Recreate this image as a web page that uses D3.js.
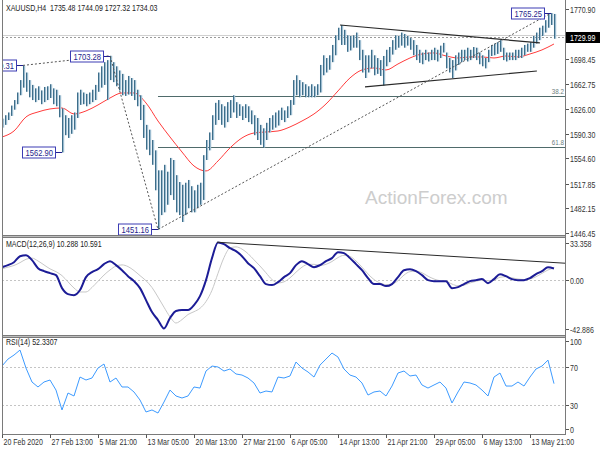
<!DOCTYPE html>
<html><head><meta charset="utf-8">
<script src="https://cdn.jsdelivr.net/npm/d3@7"></script>
<style>
body{margin:0;background:#fff;}
svg text{font-family:'Liberation Sans',Arial,sans-serif;}
</style></head><body>
<svg id="c" width="600" height="450"></svg>
<script>
// ---------------- DATA ----------------
const symbol = "XAUUSD,H4";
const lastOHLC = ["1735.48", "1744.09", "1727.32", "1734.03"];
const bidPrice = 1729.99;
const closePrice = 1734.03;

// H4 bars (sampled every other bar), high / low
const highs = [
 1612,1617,1621,1631,1639,1650,1668,1689.31,1679,1668,
 1661,1656,1659,1653,1658,1659,1662,1656,1654,1646,
 1627,1617,1613,1617,1621,1650,1654,1650,1648,1650,
 1654,1661,1679,1688,1694,1697,1703.28,1694,1688,1682,
 1677,1668,1674,1671,1668,1654,1646,1632,1603,1596,
 1581,1566,1537,1537,1545,1535,1555,1552,1530,1520,
 1516,1519,1523,1514,1508,1516,1519,1559,1581,1592,
 1617,1635,1639,1633,1630,1636,1639,1646,1636,1633,
 1630,1633,1630,1624,1617,1613,1603,1598,1606,1613,
 1617,1621,1624,1628,1624,1630,1639,1668,1675,1668,
 1665,1662,1659,1662,1659,1662,1690,1704,1700,1704,
 1719,1733,1744,1748,1741,1733,1732,1733,1737,1726,
 1712,1704,1704,1712,1704,1700,1697,1703,1712,1716,
 1726,1733,1732,1737,1735,1732,1729,1726,1719,1712,
 1708,1712,1708,1712,1715,1712,1718,1722,1708,1700,
 1697,1704,1708,1712,1712,1715,1712,1716,1715,1708,
 1704,1700,1712,1719,1721,1723,1726,1715,1708,1708,
 1708,1712,1712,1715,1719,1721,1723,1732,1737,1744,
 1747,1755,1764,1765.25,1764
];
const lows = [
 1599,1603,1610,1616,1625,1633,1646,1657,1651,1643,
 1639,1636,1639,1633,1636,1639,1642,1633,1630,1614,
 1562.90,1588,1584,1590,1596,1613,1632,1633,1630,1633,
 1636,1639,1651,1657,1661,1639,1668,1665,1659,1653,
 1646,1645,1647,1645,1639,1630,1610,1584,1567,1559,
 1545,1508,1451.16,1472,1476,1487,1501,1494,1476,1472,
 1462,1472,1482,1476,1476,1482,1487,1494,1552,1566,
 1581,1603,1610,1603,1599,1607,1613,1621,1613,1616,
 1610,1613,1607,1604,1588,1581,1574,1570,1581,1592,
 1596,1599,1602,1610,1607,1613,1617,1632,1646,1643,
 1646,1643,1643,1643,1643,1646,1650,1675,1679,1683,
 1694,1704,1726,1719,1719,1709,1711,1715,1715,1697,
 1679,1671,1679,1685,1675,1677,1674,1660,1688,1694,
 1705,1712,1715,1718,1715,1718,1712,1704,1697,1693,
 1691,1697,1695,1697,1697,1695,1700,1708,1685,1679,
 1671,1682,1690,1694,1697,1695,1697,1700,1697,1691,
 1688,1685,1694,1703,1704,1706,1709,1697,1695,1697,
 1697,1697,1700,1700,1704,1709,1709,1715,1721,1726,
 1732,1737,1744,1748,1728
];
// moving average, one value every 4 bars
const maStep = 4;
const maValues = [
 1585.4,1594.1,1614.5,1621.7,1626.1,1627.5,1618.8,1623.2,1631.9,1642.0,
 1649.3,1649.3,1634.8,1608.6,1585.4,1563.6,1543.3,1536.1,1550.6,1569.5,
 1584.0,1591.2,1592.7,1594.1,1600.0,1608.6,1618.8,1633.3,1652.2,1671.1,
 1682.7,1685.6,1682.7,1691.4,1700.1,1705.9,1707.4,1703.0,1700.1,1701.6,
 1701.6,1700.1,1703.0,1701.6,1705.9,1711.8,1720.4
];
// indicators, one value every 2 bars
const indStep = 2;
const macdMain = [
 11.5,13.3,15.9,21.2,22.1,17.7,10.6,8.0,6.2,4.4,
 -7.1,-12.4,-13.3,-8.8,2.7,7.1,9.7,14.2,16.8,13.3,
 8.8,3.5,-0.9,-7.1,-17.7,-28.3,-35.4,-42.9,-33.6,-27.4,
 -26.5,-26.5,-22.1,-14.2,0.0,19.5,33.4,31.9,28.3,25.7,
 21.2,15.0,10.6,3.5,-3.5,-4.4,-1.8,2.7,6.2,13.3,
 16.8,14.2,11.5,13.3,16.8,19.5,24.8,23.9,19.5,14.2,
 8.8,1.8,-3.5,-3.5,-5.3,-3.5,2.7,8.8,9.7,8.0,
 4.4,0.0,-0.9,-0.9,-0.9,-7.1,-6.2,-3.5,-0.9,0.0,
 0.9,-2.7,0.9,5.3,3.5,0.9,0.0,0.0,1.8,5.3,
 8.0,11.5,10.3
];
const macdSignal = [
 10.0,11.5,13.0,15.5,18.5,19.5,17.0,13.5,10.0,7.5,
 4.0,-1.5,-7.0,-10.5,-10.5,-6.5,-1.0,4.5,9.0,12.5,
 13.5,12.0,8.5,4.0,-0.5,-6.5,-15.0,-24.0,-32.5,-38.0,
 -35.0,-30.5,-28.0,-25.0,-19.0,-9.0,6.0,20.0,28.5,29.5,
 27.5,23.5,18.0,12.5,6.5,0.5,-2.5,-1.5,2.0,7.0,
 11.5,14.0,14.0,13.0,14.0,16.5,20.0,22.0,21.0,17.0,
 11.5,5.5,0.5,-2.5,-4.0,-3.5,-0.5,4.5,7.5,8.0,
 6.5,3.5,1.0,-0.5,-1.0,-3.5,-5.0,-4.5,-2.5,-1.0,
 0.0,-0.5,0.0,2.5,3.0,2.0,1.0,0.5,1.0,3.0,
 6.0,9.0,10.6
];
const rsiValues = [
 70.7,78.0,82.2,87.4,68.6,54.0,48.8,54.0,56.1,45.6,
 24.8,42.5,39.4,59.2,56.1,58.2,68.6,72.8,54.0,58.2,
 48.8,48.8,43.6,35.2,22.7,24.8,21.6,33.1,45.6,39.4,
 37.3,39.4,48.8,47.7,65.5,70.7,69.7,65.5,67.6,62.4,
 61.3,58.2,53.0,42.5,44.6,43.6,59.2,58.2,60.3,74.9,
 68.6,64.5,59.2,71.7,78.0,84.3,80.1,67.6,61.3,59.2,
 53.0,40.4,43.6,44.6,39.4,49.8,63.4,65.5,60.3,61.3,
 50.9,47.7,50.9,54.0,47.7,32.1,43.6,54.0,53.0,50.9,
 45.6,39.4,59.2,63.4,49.8,49.8,54.0,49.8,59.2,67.6,
 70.7,76.9,52.3
];
const macdLabel = "MACD(12,26,9) 10.288 10.591";
const rsiLabel = "RSI(14) 52.3307";

// swing labels
const swingIdx = [7, 36, 20, 52, 183];
const swingPrice = [1689.31, 1703.28, 1562.90, 1451.16, 1765.25];
// zigzag (dotted) points
const zigIdx = [7, 36, 52, 183];
const zigPrice = [1689.31, 1703.28, 1451.16, 1765.25];
// fibonacci levels drawn from the 1451.16 low
const fibStartIdx = 52;
const fibNames = ["38.2", "61.8"];
const fibPrices = [1645.27, 1571.14];
// triangle trendlines
const upperTL = [[112.67, 1748.0], [179.3, 1722.0]];
const lowerTL = [[121, 1658.0], [178.3, 1681.2]];
const macdTL = [[71.67, 33.6], [187.67, 15.0]];

// axis ticks
const priceTicks = [1770.90, 1698.45, 1662.75, 1626.00, 1590.30, 1554.60, 1517.85, 1482.15, 1446.45];
const macdTicks = [33.358, 0.00, -42.886];
const macdTickText = ["33.358", "0.00", "-42.886"];
const rsiTicks = [100, 70, 30, 0];
const dateIdx = [0, 16, 32, 48, 64, 80, 96, 112, 128, 144, 160, 176];
const dateLabels = ["20 Feb 2020", "27 Feb 13:00", "5 Mar 21:00", "13 Mar 05:00", "20 Mar 13:00",
  "27 Mar 21:00", "6 Apr 05:00", "14 Apr 13:00", "21 Apr 21:00", "29 Apr 05:00", "6 May 13:00", "13 May 21:00"];

// ---------------- CHART ----------------
const svg = d3.select("#c");
const PL = 2, PR = 565;
const main = {top: 0, bottom: 235};
const mp = {top: 238, bottom: 335};
const rp = {top: 338, bottom: 434};

const x = d3.scaleLinear().domain([0, 187.67]).range([2, 565]);
const y = d3.scaleLinear().domain([1446.45, 1770.90]).range([232.7, 9.2]);
const ym = d3.scaleLinear().domain([-42.886, 33.358]).range([328.5, 242.5]);
const yr = d3.scaleLinear().domain([0, 100]).range([433.7, 338]);

const SQ = 0.78;
function squeeze(t, r) {
  const w = t.node().getComputedTextLength();
  if (w > 0) t.attr("textLength", w * (r || SQ)).attr("lengthAdjust", "spacingAndGlyphs");
  return t;
}

const defs = svg.append("defs");
[["clipMain", main], ["clipMacd", mp], ["clipRsi", rp]].forEach(([id, p]) => {
  defs.append("clipPath").attr("id", id).append("rect")
    .attr("x", PL + 1).attr("y", p.top).attr("width", PR - PL - 1).attr("height", p.bottom - p.top);
});

const FS = 9;
const gM = svg.append("g").attr("clip-path", "url(#clipMain)");

// watermark
gM.append("text").attr("x", 365).attr("y", 204).text("ActionForex.com")
  .attr("font-size", 19).attr("fill", "#cdcdcd");

// fib lines
fibPrices.forEach((p, k) => {
  gM.append("line").attr("x1", x(fibStartIdx)).attr("x2", PR)
    .attr("y1", Math.round(y(p)) + 0.5).attr("y2", Math.round(y(p)) + 0.5)
    .attr("stroke", "#4f6b6b").attr("stroke-width", 1);
  squeeze(gM.append("text").attr("x", PR - 1).attr("y", Math.round(y(p)) - 2).attr("text-anchor", "end")
    .attr("font-size", 8).attr("fill", "#6a7d7d").text(fibNames[k]));
});

// price lines
gM.append("line").attr("x1", PL).attr("x2", PR).attr("y1", Math.round(y(closePrice)) + 0.5).attr("y2", Math.round(y(closePrice)) + 0.5)
  .attr("stroke", "#d0d0d0");
gM.append("line").attr("x1", PL).attr("x2", PR).attr("y1", Math.round(y(bidPrice)) + 0.5).attr("y2", Math.round(y(bidPrice)) + 0.5)
  .attr("stroke", "#9a9a9a").attr("stroke-dasharray", "2,2");

// moving average
const maLine = d3.line().x((d, k) => x(k * maStep)).y(d => y(d)).curve(d3.curveMonotoneX);
gM.append("path").attr("d", maLine(maValues)).attr("fill", "none").attr("stroke", "#ff3b3b").attr("stroke-width", 1);

// bars
const bars = highs.map((h, i) => ({i, h, l: lows[i]}));
gM.selectAll("rect.bl").data(bars).join("rect").attr("class", "bl")
  .attr("x", d => x(d.i) + 1).attr("width", 1.2)
  .attr("y", d => y(d.h)).attr("height", d => Math.max(1, y(d.l) - y(d.h)))
  .attr("fill", "#9cbcd0");
gM.selectAll("rect.bd").data(bars).join("rect").attr("class", "bd")
  .attr("x", d => x(d.i)).attr("width", 1)
  .attr("y", d => y(d.h)).attr("height", d => Math.max(1, y(d.l) - y(d.h)))
  .attr("fill", "#3e6e8a");

// trendlines
[upperTL, lowerTL].forEach(t => {
  gM.append("line").attr("x1", x(t[0][0])).attr("y1", y(t[0][1])).attr("x2", x(t[1][0])).attr("y2", y(t[1][1]))
    .attr("stroke", "#2a2a2a").attr("stroke-width", 1.2);
});
// zigzag dotted
const zz = zigIdx.map((i, k) => [x(i), y(zigPrice[k])]);
gM.append("path").attr("d", d3.line()(zz)).attr("fill", "none").attr("stroke", "#555")
  .attr("stroke-width", 1).attr("stroke-dasharray", "2,2");

// swing labels
swingIdx.forEach((i, k) => {
  const bx = x(i), by = Math.round(y(swingPrice[k])) + 0.5;
  const txt = swingPrice[k].toFixed(2);
  const w = 33, h = 11;
  const right = bx - 7;
  gM.append("line").attr("x1", right).attr("x2", bx).attr("y1", by).attr("y2", by).attr("stroke", "#1f1f8f");
  gM.append("rect").attr("x", right - w + 0.5).attr("y", by - h / 2).attr("width", w).attr("height", h)
    .attr("fill", "#fff").attr("stroke", "#3c3cb4").attr("stroke-width", 1);
  squeeze(gM.append("text").attr("x", right - 2).attr("y", by + 3.5).attr("text-anchor", "end")
    .attr("font-size", 9.5).attr("fill", "#1e1e8c").text(txt), 0.8);
});

// header
squeeze(svg.append("text").attr("x", 6).attr("y", 11).attr("font-size", FS).attr("fill", "#222")
  .attr("xml:space", "preserve").text(symbol + "  " + lastOHLC.join(" ")));

// ---- MACD panel ----
const gD = svg.append("g").attr("clip-path", "url(#clipMacd)");
gD.append("line").attr("x1", PL).attr("x2", PR).attr("y1", Math.round(ym(0)) + 0.5).attr("y2", Math.round(ym(0)) + 0.5)
  .attr("stroke", "#c4c4c4").attr("stroke-dasharray", "2,2");
const indLineM = d3.line().x((d, k) => x(k * indStep)).y(d => ym(d)).curve(d3.curveMonotoneX);
gD.append("path").attr("d", indLineM(macdSignal)).attr("fill", "none").attr("stroke", "#c8c8c8").attr("stroke-width", 1);
gD.append("path").attr("d", indLineM(macdMain)).attr("fill", "none").attr("stroke", "#1c1c96").attr("stroke-width", 2);
gD.append("line").attr("x1", x(macdTL[0][0])).attr("y1", ym(macdTL[0][1])).attr("x2", x(macdTL[1][0])).attr("y2", ym(macdTL[1][1]))
  .attr("stroke", "#2a2a2a").attr("stroke-width", 1);
squeeze(svg.append("text").attr("x", 6).attr("y", 247).attr("font-size", FS).attr("fill", "#222").text(macdLabel));

// ---- RSI panel ----
const gR = svg.append("g").attr("clip-path", "url(#clipRsi)");
[70, 30].forEach(v => {
  gR.append("line").attr("x1", PL).attr("x2", PR).attr("y1", Math.round(yr(v)) + 0.5).attr("y2", Math.round(yr(v)) + 0.5)
    .attr("stroke", "#c4c4c4").attr("stroke-dasharray", "2,2");
});
const rsiLine = d3.line().x((d, k) => x(k * indStep)).y(d => yr(d));
gR.append("path").attr("d", rsiLine(rsiValues)).attr("fill", "none").attr("stroke", "#3d9bff").attr("stroke-width", 1);
squeeze(svg.append("text").attr("x", 6).attr("y", 345).attr("font-size", FS).attr("fill", "#222").text(rsiLabel));

// ---- frames ----
const frame = svg.append("g").attr("stroke", "#7a7a7a").attr("fill", "none");
frame.append("line").attr("x1", 2.5).attr("x2", 2.5).attr("y1", 0).attr("y2", 434.5);
frame.append("line").attr("x1", PR + 0.5).attr("x2", PR + 0.5).attr("y1", 0).attr("y2", 434.5);
[235.5, 237.5, 335.5, 337.5, 434.5].forEach(v => {
  frame.append("line").attr("x1", 2).attr("x2", PR + 1).attr("y1", v).attr("y2", v);
});
svg.append("rect").attr("x", 3).attr("y", 236).attr("width", PR - 3).attr("height", 1).attr("fill", "#bdbdbd");
svg.append("rect").attr("x", 3).attr("y", 336).attr("width", PR - 3).attr("height", 1).attr("fill", "#bdbdbd");

// ---- right axes ----
const axG = svg.append("g");
function rightAxis(scale, vals, texts) {
  vals.forEach((v, k) => {
    const yy = Math.round(scale(v)) + 0.5;
    axG.append("line").attr("x1", PR + 1).attr("x2", PR + 4).attr("y1", yy).attr("y2", yy).attr("stroke", "#555");
    squeeze(axG.append("text").attr("x", PR + 5).attr("y", yy + 3.2).attr("font-size", FS).attr("fill", "#333").text(texts[k]));
  });
}
rightAxis(y, priceTicks, priceTicks.map(d => d.toFixed(2)));
rightAxis(ym, macdTicks, macdTickText);
rightAxis(d => Math.min(Math.max(yr(d), 341), 429), rsiTicks, rsiTicks.map(String));

// bid box
const byy = Math.round(y(bidPrice)) + 0.5;
axG.append("rect").attr("x", PR + 1).attr("y", byy - 5.5).attr("width", 34).attr("height", 11).attr("fill", "#000");
squeeze(axG.append("text").attr("x", PR + 5).attr("y", byy + 3.2).attr("font-size", FS).attr("fill", "#fff").text(bidPrice.toFixed(2)));

// ---- date axis ----
dateIdx.forEach((i, k) => {
  const xx = Math.round(x(i)) + 0.5;
  axG.append("line").attr("x1", xx).attr("x2", xx).attr("y1", 434.5).attr("y2", 438).attr("stroke", "#555");
  squeeze(axG.append("text").attr("x", xx + 1).attr("y", 445).attr("font-size", FS).attr("fill", "#333").text(dateLabels[k]));
});
</script>
</body></html>
